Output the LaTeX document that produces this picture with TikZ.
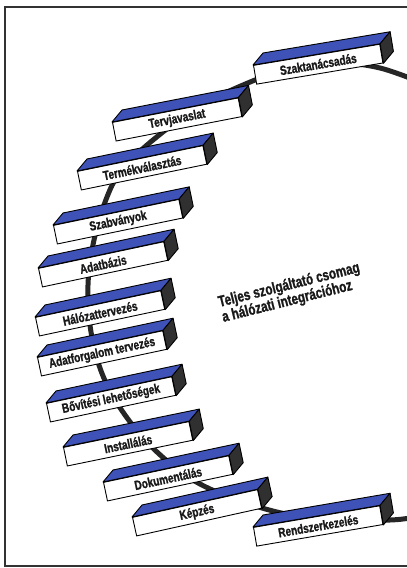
\documentclass[tikz,border=0pt]{standalone}
\usepackage{fontspec}
\newfontfamily\cond[FakeStretch=0.76, FakeBold=1.2]{Liberation Sans Bold}
\usetikzlibrary{calc}
\definecolor{topblue}{HTML}{3F52B8}
\definecolor{endgray}{HTML}{303030}
\definecolor{spinecol}{HTML}{262626}
\definecolor{framecol}{HTML}{333333}
\tikzset{
  frontface/.style={draw=black, line width=0.9pt, fill=white, minimum width=128pt,
    minimum height=19pt, inner sep=0pt, anchor=north west,
    font=\cond\fontsize{13.2}{13.2}\selectfont, text=black!90},
  topface/.style={draw=black, line width=0.9pt, fill=topblue, line join=round},
  endface/.style={draw=black, line width=0.9pt, fill=endgray, line join=round},
  spineline/.style={draw=spinecol, line width=5pt, line cap=round},
  framebox/.style={draw=framecol, line width=1.6pt},
  titletext/.style={font=\cond\fontsize{15.5}{15.5}\selectfont, text=black!90, align=left, rotate=14}
}
\newcommand\prismbox[5]{%
  \node[frontface, rotate=#4] (#1) at (#2,#3) {#5};
  \filldraw[topface] (#1.north west) -- ++(10,-12) -- ($(#1.north east)+(10,-12)$) -- (#1.north east) -- cycle;
  \filldraw[endface] (#1.north east) -- ++(10,-12) -- ($(#1.south east)+(10,-12)$) -- (#1.south east) -- cycle;
}
\begin{document}
\begin{tikzpicture}[x=1pt,y=-1pt]
\useasboundingbox (0,0) rectangle (407,568);
\fill[white] (0,0) rectangle (407,568);
% frame
\draw[framebox] (408,7) -- (5,7) -- (5,566) -- (408,566);
% spine curve
\draw[spineline] plot[smooth, tension=0.6] coordinates {
  (420,82) (380,68) (340,63) (295,67) (255,80) (200,106) (153,140) (122,170)
  (107,197) (94,240) (88,285) (91,332) (103,376) (125,415) (157,452) (200,484)
  (262,508) (320,519) (390,520) (420,516)};
% boxes
\prismbox{b1}{253}{65}{9.5}{Szaktanácsadás}
\prismbox{b2}{112}{122}{11}{Tervjavaslat}
\prismbox{b3}{77}{171}{11.6}{Termékválasztás}
\prismbox{b4}{53}{225}{11.7}{Szabványok}
\prismbox{b5}{38}{268}{12}{Adatbázis}
\prismbox{b6}{35}{317}{12}{Hálózattervezés}
\prismbox{b7}{37}{357}{12}{Adatforgalom tervezés}
\prismbox{b8}{46}{403}{12}{Bővítési lehetőségek}
\prismbox{b9}{63}{447}{11.6}{Installálás}
\prismbox{b10}{103}{482}{12}{Dokumentálás}
\prismbox{b11}{132}{517}{12.5}{Képzés}
\prismbox{b12}{253}{527}{9.7}{Rendszerkezelés}
% title
\node[titletext] (title) at (291,293) {Teljes szolgáltató csomag\\a hálózati integrációhoz};
\end{tikzpicture}
\end{document}
